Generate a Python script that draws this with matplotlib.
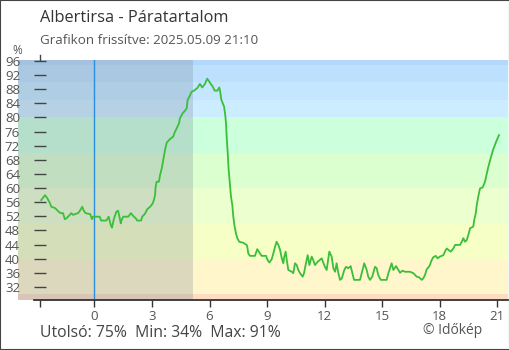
import matplotlib
matplotlib.use('Agg')
import matplotlib.pyplot as plt
from matplotlib.patches import Rectangle

plt.rcParams['font.family'] = ['Open Sans', 'DejaVu Sans']

# hours relative to midnight, humidity in %
hours = [-2.78, -2.58, -2.46, -2.34, -2.25, -2.08, -1.99, -1.87, -1.76, -1.64,
         -1.55, -1.47, -1.29, -1.21, -1.12, -1.03, -0.86, -0.77, -0.64, -0.55,
         -0.46, -0.22, -0.13, -0.08, 0.27, 0.35, 0.62, 0.74, 0.85, 0.91,
         1.02, 1.14, 1.23, 1.33, 1.37, 1.42, 1.50, 1.76, 1.90, 2.02,
         2.16, 2.23, 2.43, 2.49, 2.63, 2.75, 2.90, 3.02, 3.10, 3.16,
         3.19, 3.24, 3.36, 3.42, 3.51, 3.59, 3.68, 3.77, 3.94, 4.11,
         4.20, 4.29, 4.41, 4.46, 4.60, 4.72, 4.81, 4.86, 4.95, 5.07,
         5.19, 5.36, 5.50, 5.62, 5.76, 5.88, 6.03, 6.17, 6.27, 6.41,
         6.51, 6.55, 6.61, 6.69, 6.76, 6.82, 6.86, 6.90, 6.95, 7.00,
         7.07, 7.12, 7.19, 7.24, 7.31, 7.38, 7.45, 7.55, 7.76, 7.94,
         7.97, 8.02, 8.11, 8.37, 8.49, 8.63, 8.72, 8.95, 9.01, 9.12,
         9.24, 9.33, 9.42, 9.50, 9.59, 9.68, 9.77, 9.85, 9.90, 9.97,
         10.03, 10.11, 10.29, 10.37, 10.46, 10.55, 10.63, 10.72, 10.86, 10.93,
         11.03, 11.12, 11.21, 11.33, 11.41, 11.50, 11.64, 11.85, 12.02, 12.11,
         12.25, 12.37, 12.46, 12.55, 12.63, 12.72, 12.81, 12.90, 13.03, 13.12,
         13.24, 13.36, 13.45, 13.54, 13.85, 13.94, 14.07, 14.20, 14.28, 14.37,
         14.49, 14.63, 14.72, 14.80, 14.93, 15.24, 15.33, 15.50, 15.59, 15.73,
         15.85, 15.94, 16.06, 16.20, 16.46, 16.63, 16.81, 16.94, 17.07, 17.15,
         17.24, 17.33, 17.47, 17.59, 17.67, 17.80, 17.90, 18.02, 18.20, 18.28,
         18.37, 18.46, 18.58, 18.72, 18.81, 19.07, 19.16, 19.24, 19.33, 19.42,
         19.50, 19.59, 19.76, 19.81, 19.89, 19.94, 20.02, 20.11, 20.25, 20.37,
         20.53, 20.64, 20.79, 20.95, 21.10]
humidity = [56.6, 58.0, 57.1, 55.9, 54.7, 54.4, 54.0, 53.3, 52.9, 52.9,
            51.2, 51.4, 52.4, 52.9, 52.4, 52.6, 52.9, 53.5, 54.7, 53.5,
            52.9, 52.6, 51.2, 51.9, 51.9, 50.8, 50.8, 51.9, 49.5, 48.8,
            51.4, 53.3, 53.6, 51.2, 50.0, 51.0, 51.9, 51.9, 52.9, 52.1,
            51.4, 50.8, 50.8, 51.9, 52.7, 54.0, 54.7, 55.5, 56.6, 58.0,
            60.4, 61.8, 61.8, 63.7, 65.6, 68.0, 70.8, 72.9, 73.9, 74.6,
            76.0, 76.9, 78.4, 79.8, 81.2, 81.9, 82.6, 85.0, 85.9, 87.3,
            87.6, 88.3, 89.5, 88.5, 89.5, 91.0, 89.8, 88.7, 87.6, 87.6,
            88.5, 87.6, 85.2, 84.0, 83.1, 80.7, 78.4, 74.1, 69.9, 65.1,
            60.9, 57.6, 55.2, 51.9, 49.1, 47.2, 45.8, 44.8, 44.5, 43.9,
            43.4, 41.5, 40.8, 40.8, 42.7, 41.5, 40.8, 40.8, 39.8, 38.9,
            39.8, 41.5, 43.4, 44.8, 43.9, 42.5, 40.1, 38.7, 40.6, 42.0,
            39.6, 36.8, 36.3, 35.9, 38.7, 38.2, 36.8, 35.9, 34.9, 35.9,
            38.7, 41.0, 38.2, 40.6, 39.6, 38.2, 39.1, 40.1, 37.7, 36.8,
            42.0, 40.6, 37.3, 36.3, 38.7, 35.9, 34.0, 34.4, 36.8, 37.7,
            37.3, 37.9, 35.9, 34.0, 34.0, 35.9, 38.7, 36.8, 34.9, 34.0,
            34.9, 37.7, 37.3, 35.4, 34.0, 34.0, 35.9, 38.7, 36.8, 37.9,
            36.8, 36.0, 36.6, 36.3, 36.3, 35.9, 34.9, 34.7, 34.0, 34.4,
            35.4, 37.0, 37.9, 39.6, 40.4, 40.8, 40.1, 40.6, 41.0, 42.0,
            42.9, 42.5, 42.0, 42.9, 43.9, 43.9, 44.8, 45.8, 44.8, 45.3,
            46.7, 48.6, 49.1, 51.0, 52.9, 55.2, 57.6, 59.9, 60.2, 61.8,
            65.7, 68.0, 70.8, 73.1, 75.0]

# background bands (lower, upper, colour)
band_edges = [28, 30, 40, 50, 60, 70, 80, 85, 90, 95, 100]
band_colors = ['#fddcc0', '#fff6cc', '#f6ffc6', '#ecffcf', '#dcffcf',
               '#ccffdc', '#ccecff', '#c4e6ff', '#bde0fe', '#b4d8fb']

y_ticks = list(range(32, 97, 4))
x_ticks = [0, 3, 6, 9, 12, 15, 18, 21]
sunrise = 5.13
axis_x = -2.84

title = 'Albertirsa - Páratartalom'
subtitle = 'Grafikon frissítve: 2025.05.09 21:10'
stats = 'Utolsó: 75%  Min: 34%  Max: 91%'

W, H = 510, 350
fig = plt.figure(figsize=(W / 100, H / 100), dpi=100)
ax = fig.add_axes([18 / W, 50 / H, 490 / W, 240 / H])
ax.set_xlim(-3.99, 21.57)
ax.set_ylim(28.3, 96.28)

for lo, hi, c in zip(band_edges[:-1], band_edges[1:], band_colors):
    ax.axhspan(lo, hi, color=c, lw=0, zorder=0)

# night shading
ax.axvspan(-3.99, sunrise, color='#7a8a9a', alpha=0.27, lw=0, zorder=1)
ax.axvline(0, color='#2a8fe0', lw=1, zorder=2)

ax.plot(hours, humidity, color='#3abf3a', lw=1.3, zorder=3)

for s in ['top', 'right']:
    ax.spines[s].set_visible(False)
ax.spines['left'].set_position(('data', axis_x))
ax.spines['left'].set_visible(False)
ax.spines['bottom'].set_color('#333333')
ax.spines['bottom'].set_linewidth(1.3)
ax.spines['bottom'].set_bounds(-3.16, 21.57)

ax.set_yticks(y_ticks)
ax.set_yticklabels([str(v) for v in y_ticks])
ax.tick_params(axis='y', direction='inout', length=8.6, width=1, color='#444444',
               pad=10, labelsize=9.5, labelcolor='#555555')

ax.set_xticks([axis_x] + x_ticks)
ax.set_xticklabels([''] + [str(v) for v in x_ticks])
ax.tick_params(axis='x', direction='out', length=5, width=1, color='#333333',
               pad=2, labelsize=9.5, labelcolor='#555555')

# small mark above the y axis
ax.plot([axis_x, axis_x], [96.28, 97.7], color='#444444', lw=1, clip_on=False)

fig.text(40 / W, 1 - 18 / H, title, fontsize=11.8, color='#333333', va='center', ha='left')
fig.text(40 / W, 1 - 41 / H, subtitle, fontsize=9.6, color='#555555', va='center', ha='left')
fig.text(17 / W, 1 - 51 / H, '%', fontsize=8.5, color='#555555', va='center', ha='center')
fig.text(40 / W, 1 - 333 / H, stats, fontsize=11.3, color='#444444', va='center', ha='left')
fig.text(482 / W, 1 - 331 / H, '© Időkép', fontsize=10, color='#555555', va='center', ha='right')

fig.patches.append(Rectangle((0, 0), 1, 1, transform=fig.transFigure, fill=False,
                             edgecolor='#444444', lw=1.5))

fig.savefig('out.png', dpi=100)
